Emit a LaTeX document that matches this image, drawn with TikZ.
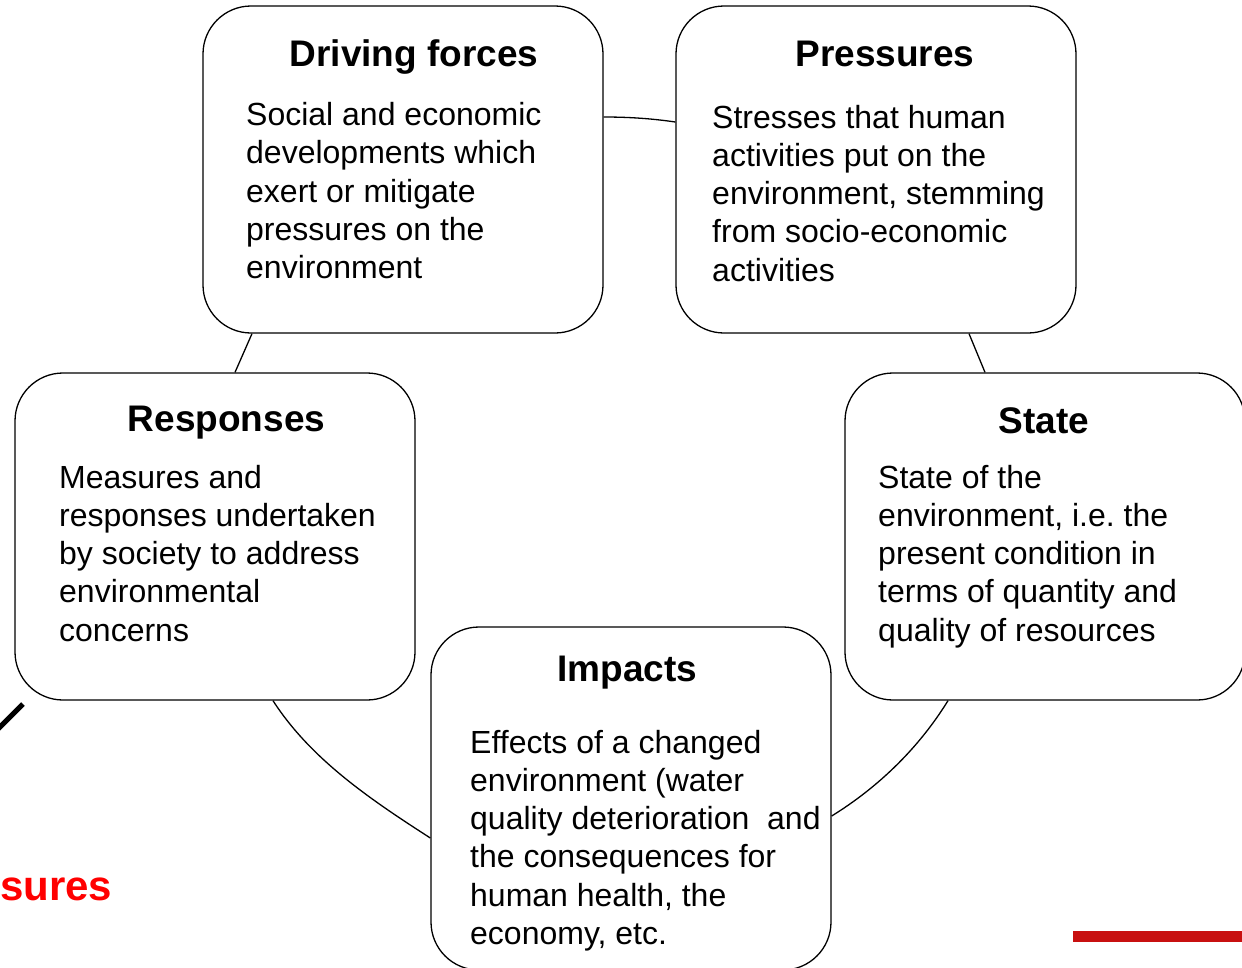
\documentclass[tikz,border=0pt]{standalone}
\usepackage{fontspec}
\setmainfont{Liberation Sans}
\usetikzlibrary{calc}
\frenchspacing
\definecolor{hotred}{RGB}{255,0,0}
\definecolor{barred}{RGB}{200,16,16}
\tikzset{
  box/.style={draw=black, line width=1.3pt, fill=white, rounded corners=48pt,
    inner sep=0pt, minimum width=400pt, minimum height=327pt},
  ttl/.style={anchor=base, inner sep=0pt, font=\bfseries\fontsize{37}{44}\selectfont},
  bodytext/.style={anchor=base west, inner sep=0pt, font=\fontsize{32}{38.3}\selectfont},
  link/.style={line width=1.3pt},
}
\newcommand{\bodylines}[1]{\parbox[t]{400pt}{\raggedright\frenchspacing #1}}
\begin{document}
\begin{tikzpicture}[x=1pt,y=1pt]
\useasboundingbox (0,0) rectangle (1242,-967);

% boxes
\node[box] (df) at (403,-169.5) {};
\node[box] (pr) at (876,-169.5) {};
\node[box] (rs) at (215,-536.5) {};
\node[box] (st) at (1045,-536.5) {};
\node[box, minimum height=343pt] (im) at (631,-798.5) {};

% connectors
\draw[link] ($(df.east)+(0,52.5)$) .. controls +(25,0) and +(-24,3.5) .. ($(pr.west)+(0,47.5)$);
\draw[link] ($(pr.south)+(93,0)$) -- ($(st.north)+(-60,0)$);
\draw[link] ($(st.south)+(-97,0)$) .. controls +(-29,-47) and +(47,29) .. ($(im.east)+(0,-17.5)$);
\draw[link] ($(rs.south)+(58,0)$) .. controls +(38,-59) and +(-59,38) .. ($(im.west)+(0,-39.5)$);
\draw[link] ($(rs.north)+(20,0)$) -- ($(df.south)+(-151,0)$);

% titles
\node[ttl] (dft) at (414,-66) {Driving forces};
\node[ttl] (prt) at (885,-66) {Pressures};
\node[ttl] (rst) at (226.5,-431) {Responses};
\node[ttl] (stt) at (1044,-433) {State};
\node[ttl] (imt) at (627.5,-681) {Impacts};

% bodies
\node[bodytext] (dfb) at (246,-125.5) {\bodylines{Social and economic\\developments which\\exert or mitigate\\pressures on the\\environment}};
\node[bodytext] (prb) at (712,-128) {\bodylines{Stresses that human\\activities put on the\\environment, stemming\\from socio-economic\\activities}};
\node[bodytext] (rsb) at (59,-488) {\bodylines{Measures and\\responses undertaken\\by society to address\\environmental\\concerns}};
\node[bodytext] (stb) at (878,-488) {\bodylines{State of the\\environment, i.e. the\\present condition in\\terms of quantity and\\quality of resources}};
\node[bodytext] (imb) at (470,-753) {\bodylines{Effects of a changed\\environment (water\\quality deterioration~ and\\the consequences for\\human health, the\\economy, etc.}};

% partial elements at the edges
\coordinate (ln1) at (-3,-730);
\coordinate (ln2) at (23,-704);
\draw[line width=5pt] (ln1) -- (ln2);
\node[anchor=base west, inner sep=0pt, text=hotred, font=\bfseries\fontsize{42}{50}\selectfont] (prs) at (0,-900) {sures};
\fill[barred] (1073,-931) rectangle (1242,-942);
\end{tikzpicture}
\end{document}
